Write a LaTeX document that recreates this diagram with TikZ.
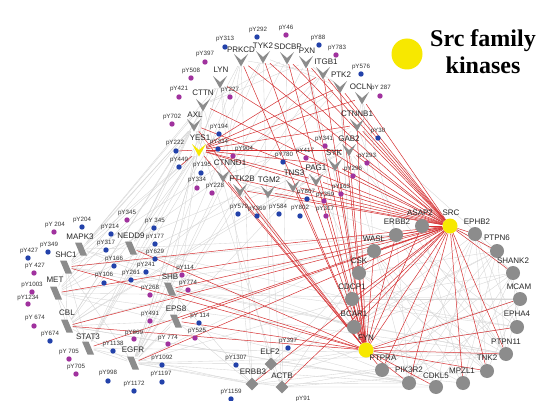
\documentclass[tikz,border=0pt]{standalone}
\usepackage{fontspec}
\setmainfont{Liberation Sans}
\newfontfamily\legendfont{Liberation Serif}
\usetikzlibrary{backgrounds}
\definecolor{dotblue}{RGB}{35,66,170}
\definecolor{dotpurple}{RGB}{160,50,158}
\definecolor{srcyellow}{RGB}{247,232,0}
\definecolor{nodegray}{RGB}{140,140,140}
\definecolor{edgered}{RGB}{214,48,50}
\definecolor{edgegray}{RGB}{214,214,214}
\tikzset{
  lbl/.style={font=\fontsize{8}{9}\selectfont, text=black!85, inner sep=0pt},
  plbl/.style={font=\fontsize{6.2}{7}\selectfont, text=black!80, inner sep=0pt},
  dotb/.style={circle, fill=dotblue, inner sep=0pt, minimum size=5.4pt},
  dotp/.style={circle, fill=dotpurple, inner sep=0pt, minimum size=5.4pt},
  hub/.style={rectangle, inner sep=0pt, minimum width=14pt, minimum height=12pt},
  phub/.style={rectangle, inner sep=0pt, minimum width=11pt, minimum height=13pt},
  circ/.style={circle, fill=nodegray, inner sep=0pt, minimum size=14pt},
  ycirc/.style={circle, fill=srcyellow, inner sep=0pt, minimum size=15pt},
  dia/.style={rectangle, fill=nodegray, inner sep=0pt, minimum size=9pt, rotate=45},
  redge/.style={draw=edgered, line width=0.5pt},
  gedge/.style={draw=edgegray, line width=0.35pt},
}
\newcommand\mkV[5]{\node[hub] (#1) at (#2) {};
  \fill[#3] ([shift={(-7,-6)}]#1.center) -- ([shift={(0,6.5)}]#1.center) -- ([shift={(7,-6)}]#1.center) -- (#1.center) -- cycle;
  \node[lbl] (#1-l) at (#5) {#4};}
\newcommand\mkP[3]{\node[phub] (#1) at (#2) {};
  \fill[nodegray] ([shift={(-6,-6.5)}]#1.center) -- ([shift={(0.5,-6.5)}]#1.center) -- ([shift={(6,6.5)}]#1.center) -- ([shift={(-0.5,6.5)}]#1.center) -- cycle;
  \node[lbl] (#1-l) at (#3) {#1};}
\newcommand\mkN[5]{\node[#3] (#1) at (#2) {};\node[lbl] (#1-l) at (#5) {#4};}
\newcommand\mkD[5]{\node[#3] (#1) at (#2) {};\node[plbl] (#1-l) at (#5) {#4};}
\begin{document}
\begin{tikzpicture}[x=1pt,y=-1pt]
\useasboundingbox (0,0) rectangle (546,401);
% ---------- V nodes
\mkV{PRKCD}{241,60}{nodegray}{PRKCD}{241,50}
\mkV{TYK2}{263,57}{nodegray}{TYK2}{263,46}
\mkV{SDCBP}{287,58}{nodegray}{SDCBP}{288,47}
\mkV{PXN}{306,62}{nodegray}{PXN}{307,51}
\mkV{ITGB1}{323,73}{nodegray}{ITGB1}{326,62}
\mkV{PTK2}{340,87}{nodegray}{PTK2}{341,75}
\mkV{OCLN}{362,98}{nodegray}{OCLN}{361,87}
\mkV{CTNNB1}{357,125}{nodegray}{CTNNB1}{357,114}
\mkV{GAB2}{349,150}{nodegray}{GAB2}{349,139}
\mkV{SYK}{335,165}{nodegray}{SYK}{334,153}
\mkV{PAG1}{316,180}{nodegray}{PAG1}{316,168}
\mkV{TNS3}{293,186}{nodegray}{TNS3}{294,173}
\mkV{TGM2}{268,192}{nodegray}{TGM2}{269,180}
\mkV{PTK2B}{240,190}{nodegray}{PTK2B}{242,179}
\mkV{CTNND1}{223,176}{nodegray}{CTNND1}{230,163}
\mkV{YES1}{199,150}{srcyellow}{YES1}{200,138}
\mkV{AXL}{194,125}{nodegray}{AXL}{195,115}
\mkV{CTTN}{203,105}{nodegray}{CTTN}{203,93}
\mkV{LYN}{220,82}{nodegray}{LYN}{221,70}
% ---------- circles
\mkN{SRC}{450,226}{ycirc}{SRC}{451,213}
\mkN{FYN}{366,350}{ycirc}{FYN}{366,338}
\mkN{ASAP2}{422,226}{circ}{ASAP2}{420,213}
\mkN{ERBB2}{396,235}{circ}{ERBB2}{397,222}
\mkN{EPHB2}{475,234}{circ}{EPHB2}{477,222}
\mkN{PTPN6}{497,251}{circ}{PTPN6}{497,238}
\mkN{SHANK2}{513,273}{circ}{SHANK2}{513,261}
\mkN{MCAM}{520,299}{circ}{MCAM}{519,287}
\mkN{EPHA4}{517,327}{circ}{EPHA4}{517,314}
\mkN{PTPN11}{506,354}{circ}{PTPN11}{506,342}
\mkN{TNK2}{487,371}{circ}{TNK2}{487,358}
\mkN{MPZL1}{463,383}{circ}{MPZL1}{462,371}
\mkN{CDKL5}{436,387}{circ}{CDKL5}{436,376}
\mkN{PIK3R2}{409,383}{circ}{PIK3R2}{409,370}
\mkN{PTPRA}{382,370}{circ}{PTPRA}{383,358}
\mkN{BCAR1}{354,327}{circ}{BCAR1}{354,314}
\mkN{CDCP1}{352,299}{circ}{CDCP1}{352,287}
\mkN{CSK}{359,273}{circ}{CSK}{359,261}
\mkN{WASL}{374,251}{circ}{WASL}{374,239}
% ---------- parallelograms
\mkP{MAPK3}{81,249}{80,237}
\mkP{NEDD9}{131,248}{131,236}
\mkP{SHC1}{66,267}{66,255}
\mkP{MET}{56,293}{55,280}
\mkP{SHB}{170,289}{170,277}
\mkP{CBL}{67,326}{67,313}
\mkP{EPS8}{176,321}{176,309}
\mkP{STAT3}{88,348}{88,337}
\mkP{EGFR}{133,363}{133,350}
% ---------- diamonds
\mkN{ELF2}{271,364}{dia}{ELF2}{270,352}
\mkN{ERBB3}{252,384}{dia}{ERBB3}{253,372}
\mkN{ACTB}{282,387}{dia}{ACTB}{282,376}
% ---------- phospho sites
\mkD{d1}{225,47}{dotb}{pY313}{225,39}
\mkD{d2}{257,37}{dotb}{pY292}{258,30}
\mkD{d3}{286,35}{dotp}{pY46}{286,28}
\mkD{d4}{319,45}{dotb}{pY88}{318,38}
\mkD{d5}{336,55}{dotp}{pY783}{337,48}
\mkD{d6}{205,62}{dotp}{pY397}{205,54}
\mkD{d7}{191,78}{dotp}{pY508}{191,71}
\mkD{d8}{179,97}{dotp}{pY421}{179,89}
\mkD{d9}{230,97}{dotp}{pY227}{230,90}
\mkD{d10}{172,124}{dotp}{pY702}{172,117}
\mkD{d11}{361,74}{dotb}{pY576}{361,67}
\mkD{d12}{380,96}{dotp}{pY 287}{381,88}
\mkD{d13}{378,138}{dotb}{pY30}{378,131}
\mkD{d14}{367,163}{dotp}{pY293}{367,156}
\mkD{d15}{353,176}{dotp}{pY296}{353,169}
\mkD{d16}{341,194}{dotp}{pY163}{341,187}
\mkD{d17}{325,146}{dotp}{pY341}{324,139}
\mkD{d18}{306,158}{dotp}{pY417}{305,151}
\mkD{d19}{283,162}{dotb}{pY780}{284,155}
\mkD{d20}{307,199}{dotb}{pY807}{306,192}
\mkD{d21}{324,201}{dotp}{pY359}{325,195}
\mkD{d22}{326,216}{dotp}{pY317}{325,209}
\mkD{d23}{300,216}{dotb}{pY802}{300,208}
\mkD{d24}{279,214}{dotb}{pY584}{278,207}
\mkD{d25}{257,216}{dotb}{pY369}{257,209}
\mkD{d26}{238,214}{dotb}{pY579}{239,207}
\mkD{d27}{219,134}{dotb}{pY194}{219,127}
\mkD{d28}{218,149}{dotb}{pY334}{219,142}
\mkD{d29}{176,151}{dotb}{pY222}{175,143}
\mkD{d30}{233,156}{dotp}{pY904}{244,149}
\mkD{d31}{179,167}{dotb}{pY449}{179,160}
\mkD{d32}{201,173}{dotb}{pY195}{202,165}
\mkD{d33}{197,188}{dotp}{pY334}{197,180}
\mkD{d34}{212,193}{dotp}{pY228}{215,186}
\mkD{d35}{54,232}{dotp}{pY 204}{55,225}
\mkD{d36}{82,227}{dotb}{pY204}{82,220}
\mkD{d37}{127,220}{dotp}{pY345}{127,213}
\mkD{d38}{111,234}{dotb}{pY214}{110,227}
\mkD{d39}{154,228}{dotb}{pY 345}{155,221}
\mkD{d40}{155,244}{dotb}{pY177}{155,237}
\mkD{d41}{48,252}{dotb}{pY349}{49,245}
\mkD{d42}{28,258}{dotb}{pY427}{29,251}
\mkD{d43}{106,250}{dotb}{pY317}{106,243}
\mkD{d44}{155,259}{dotb}{pY629}{155,252}
\mkD{d45}{34,273}{dotp}{pY 427}{35,266}
\mkD{d46}{114,266}{dotb}{pY166}{114,259}
\mkD{d47}{146,272}{dotb}{pY241}{146,265}
\mkD{d48}{182,275}{dotp}{pY114}{185,268}
\mkD{d49}{104,283}{dotb}{pY106}{104,275}
\mkD{d50}{131,280}{dotb}{pY261}{131,273}
\mkD{d51}{188,290}{dotp}{pY774}{188,283}
\mkD{d52}{32,292}{dotp}{pY1003}{32,285}
\mkD{d53}{150,295}{dotp}{pY268}{150,288}
\mkD{d54}{28,304}{dotp}{pY1234}{28,298}
\mkD{d55}{150,321}{dotp}{pY491}{150,314}
\mkD{d56}{34,326}{dotp}{pY 674}{35,318}
\mkD{d57}{50,341}{dotb}{pY674}{50,334}
\mkD{d58}{134,339}{dotp}{pY869}{134,333}
\mkD{d59}{113,351}{dotb}{pY1138}{113,344}
\mkD{d60}{168,344}{dotp}{pY 774}{168,338}
\mkD{d61}{195,338}{dotp}{pY525}{197,331}
\mkD{d62}{199,323}{dotb}{pY 114}{200,316}
\mkD{d63}{69,359}{dotp}{pY 705}{69,352}
\mkD{d64}{76,374}{dotp}{pY705}{76,367}
\mkD{d65}{162,365}{dotb}{pY1092}{162,358}
\mkD{d66}{108,381}{dotb}{pY998}{108,373}
\mkD{d67}{162,382}{dotb}{pY1197}{161,374}
\mkD{d68}{134,391}{dotb}{pY1172}{134,384}
\mkD{d69}{288,348}{dotb}{pY397}{288,341}
\mkD{d70}{236,365}{dotb}{pY1307}{236,358}
\mkD{d71}{231,399}{dotb}{pY1159}{231,392}
\node[plbl] (d72) at (303,399) {pY91};
% ---------- legend
\node[circle, fill=srcyellow, inner sep=0pt, minimum size=31pt] (legdot) at (407,54) {};
\node[font=\legendfont\bfseries\fontsize{24}{26}\selectfont, inner sep=0pt, anchor=base] (leg1) at (483,47) {Src family};
\node[font=\legendfont\bfseries\fontsize{24}{26}\selectfont, inner sep=0pt, anchor=base] (leg2) at (483,74) {kinases};
% ---------- edges
\begin{pgfonlayer}{background}
\fill[white] (0,0) rectangle (546,401);
\foreach \a/\b in {AXL/MAPK3, AXL/SHC1, AXL/NEDD9, AXL/CBL, AXL/MET, AXL/STAT3,
 YES1/MAPK3, YES1/SHC1, YES1/NEDD9, YES1/MET, YES1/CBL, YES1/EGFR, YES1/STAT3,
 CTTN/NEDD9, CTTN/MAPK3, CTTN/SHB, CTTN/EPS8, LYN/SHC1, LYN/EGFR, LYN/CBL, LYN/PTK2B,
 PRKCD/EGFR, PRKCD/STAT3, PRKCD/ITGB1, PRKCD/CTNND1, TYK2/STAT3, TYK2/PTK2, TYK2/EGFR,
 SDCBP/EGFR, SDCBP/CTTN, PXN/PTK2, PXN/BCAR1, PXN/CTTN, PXN/PTK2B, PXN/CSK,
 ITGB1/PTK2, ITGB1/CTNND1, ITGB1/EGFR, PTK2/BCAR1, PTK2/SHC1, PTK2/PTK2B, PTK2/CDCP1,
 OCLN/CTNNB1, OCLN/ERBB2, OCLN/WASL, CTNNB1/CTNND1, CTNNB1/EGFR, CTNNB1/ERBB2, CTNNB1/PTPN6,
 GAB2/SHC1, GAB2/PTPN11, GAB2/PIK3R2, GAB2/MET, GAB2/SYK, SYK/PAG1, SYK/CBL, SYK/PTPN6,
 PAG1/CSK, PAG1/TNS3, TNS3/TGM2, TNS3/CBL, TGM2/PTK2B, TGM2/ACTB,
 PTK2B/BCAR1, PTK2B/CBL, PTK2B/EGFR, CTNND1/ERBB2, CTNND1/EGFR, CTNND1/MET,
 SHB/EPS8, SHB/ERBB3, SHB/PTPN11, EPS8/EGFR, EPS8/ERBB3, EPS8/CBL,
 EGFR/ERBB2, EGFR/ERBB3, EGFR/STAT3, EGFR/CBL, EGFR/SHC1, EGFR/PTPN11, EGFR/PIK3R2,
 EGFR/CDCP1, EGFR/ACTB, EGFR/ELF2, STAT3/SHC1, STAT3/MET, STAT3/PTPN11, STAT3/ERBB3,
 CBL/MET, CBL/SHC1, CBL/PIK3R2, CBL/ERBB2, CBL/CDKL5, MET/SHC1, MET/PTPN11, MET/PIK3R2,
 MET/MCAM, MET/WASL, SHC1/MAPK3, SHC1/ERBB2, SHC1/PTPN11, SHC1/EPHA4,
 MAPK3/NEDD9, MAPK3/PTPRA, MAPK3/BCAR1, NEDD9/BCAR1, NEDD9/CDCP1, NEDD9/ERBB2,
 ERBB3/ERBB2, ERBB3/PIK3R2, ERBB3/ELF2, ERBB3/PTPN11, ERBB3/MCAM,
 ACTB/ELF2, ACTB/PTPRA, ACTB/WASL, ACTB/CDKL5, ACTB/TNK2, ELF2/EPHA4, ELF2/PTPN6, ELF2/MPZL1,
 ERBB2/PTPN11, ERBB2/PIK3R2, ERBB2/EPHA4, ERBB2/TNK2, ASAP2/PTPN11, ASAP2/MPZL1,
 WASL/TNK2, WASL/CDKL5, WASL/MPZL1, CSK/PTPN6, CSK/TNK2, CSK/PTPN11,
 CDCP1/EPHA4, CDCP1/MCAM, CDCP1/SHANK2, BCAR1/PTPN6, BCAR1/MPZL1, BCAR1/SHANK2, BCAR1/EPHB2,
 PTPRA/PTPN6, PTPRA/EPHB2, PTPRA/SHANK2, PIK3R2/EPHB2, PIK3R2/PTPN6, PIK3R2/MCAM,
 CDKL5/EPHB2, CDKL5/SHANK2, MPZL1/PTPN6, MPZL1/SHANK2, TNK2/EPHB2, TNK2/MCAM,
 PTPN11/PTPN6, PTPN11/EPHB2, PTPN11/MCAM, EPHA4/EPHB2, EPHA4/SHANK2, MCAM/PTPN6,
 SHANK2/EPHB2, YES1/CTTN, AXL/LYN, YES1/LYN, AXL/CTNND1, LYN/ERBB3, CTTN/ELF2,
 AXL/ACTB, PRKCD/ERBB3, TYK2/ELF2, SDCBP/ACTB}
  \draw[gedge] (\a) -- (\b);
\foreach \b in {PRKCD, TYK2, SDCBP, PXN, ITGB1, PTK2, OCLN, CTNNB1, GAB2, SYK, PAG1, TNS3,
 TGM2, PTK2B, CTNND1, YES1, LYN, CTTN, AXL, SHC1, MET, CBL, STAT3, EGFR, SHB, EPS8,
 ERBB3, ACTB, ASAP2, ERBB2, WASL, CSK, CDCP1, BCAR1, FYN, EPHB2, PTPN6, SHANK2,
 PTPN11, TNK2, MPZL1, PIK3R2, PTPRA}
  \draw[redge] (SRC) -- (\b);
\foreach \b in {PRKCD, TYK2, SDCBP, PXN, ITGB1, PTK2, CTNNB1, GAB2, SYK, PAG1, TNS3,
 YES1, CTNND1, PTK2B, AXL, SHC1, NEDD9, CBL, SHB, EPS8, ASAP2, ERBB2, WASL, CSK, CDCP1,
 BCAR1, PTPRA, PIK3R2, CDKL5, TNK2, PTPN11, EPHA4, MCAM}
  \draw[redge] (FYN) -- (\b);
\foreach \b in {d29, d31, PTK2, OCLN, CTNNB1, ITGB1, GAB2, SYK, PAG1}
  \draw[redge] (YES1) -- (\b);
\end{pgfonlayer}
\end{tikzpicture}
\end{document}
